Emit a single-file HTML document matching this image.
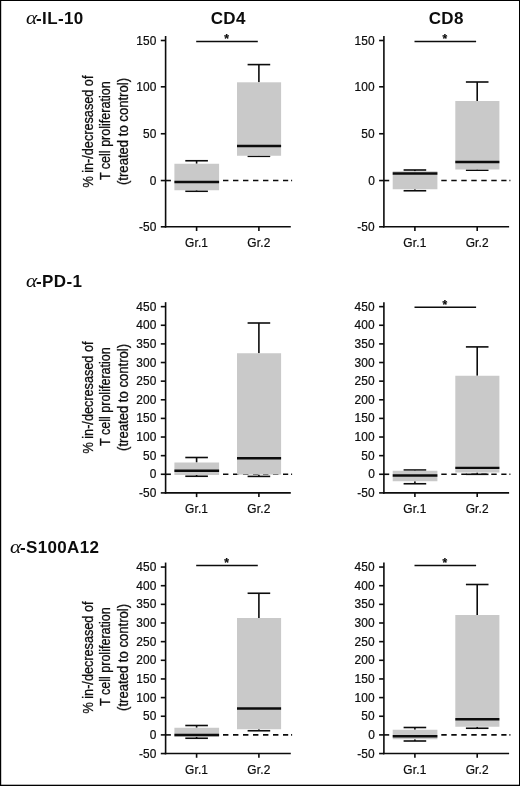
<!DOCTYPE html>
<html lang="en"><head><meta charset="utf-8"><title>Figure</title>
<style>html,body{margin:0;padding:0;background:#fff}body{width:520px;height:786px;overflow:hidden}svg{display:block}</style>
</head><body>
<svg width="520" height="786" viewBox="0 0 520 786" font-family='"Liberation Sans", Arial, Helvetica, sans-serif' fill="#0c0c0c">
<rect x="0" y="0" width="520" height="786" fill="#fff"/>
<rect x="0" y="0" width="520" height="1.0" fill="#000"/>
<rect x="0" y="0" width="1.2" height="786" fill="#000"/>
<rect x="0" y="784.7" width="520" height="1.3" fill="#000"/>
<rect x="519.0" y="0" width="1.0" height="786" fill="#000"/>
<text transform="translate(26.10,24.20) scale(1.1,1)" font-size="19.4" font-style="italic" font-family='"Liberation Serif", "Times New Roman", serif'>α</text>
<text x="36.10" y="24.20" font-size="17" font-weight="bold" letter-spacing="0.35">-IL-10</text>
<text transform="translate(26.10,286.90) scale(1.1,1)" font-size="19.4" font-style="italic" font-family='"Liberation Serif", "Times New Roman", serif'>α</text>
<text x="36.10" y="286.90" font-size="17" font-weight="bold" letter-spacing="0.35">-PD-1</text>
<text transform="translate(10.00,552.70) scale(1.1,1)" font-size="19.4" font-style="italic" font-family='"Liberation Serif", "Times New Roman", serif'>α</text>
<text x="20.00" y="552.70" font-size="17" font-weight="bold" letter-spacing="0.35">-S100A12</text>
<text x="228.20" y="24.20" font-size="17" text-anchor="middle" font-weight="bold" letter-spacing="0.3">CD4</text>
<text x="446.20" y="24.20" font-size="17" text-anchor="middle" font-weight="bold" letter-spacing="0.3">CD8</text>
<text transform="translate(93.10,131.60) rotate(-90)" font-size="14" text-anchor="middle" textLength="112.0" lengthAdjust="spacingAndGlyphs" stroke="#111" stroke-width="0.3">% in-/decresased of</text>
<text transform="translate(110.30,130.70) rotate(-90)" font-size="14" text-anchor="middle" textLength="98.8" lengthAdjust="spacingAndGlyphs" stroke="#111" stroke-width="0.3">T cell proliferation</text>
<text transform="translate(127.80,131.50) rotate(-90)" font-size="14" text-anchor="middle" textLength="107.0" lengthAdjust="spacingAndGlyphs" stroke="#111" stroke-width="0.3">(treated to control)</text>
<line x1="165.60" y1="180.55" x2="170.90" y2="180.55" stroke="#0c0c0c" stroke-width="1.6" />
<line x1="223.00" y1="180.55" x2="288.20" y2="180.55" stroke="#0c0c0c" stroke-width="1.6" stroke-dasharray="5.4 4.6"/>
<line x1="291.10" y1="180.55" x2="292.10" y2="180.55" stroke="#0c0c0c" stroke-width="1.6" />
<line x1="196.60" y1="160.75" x2="196.60" y2="163.75" stroke="#0c0c0c" stroke-width="1.6" />
<line x1="196.60" y1="190.25" x2="196.60" y2="191.25" stroke="#0c0c0c" stroke-width="1.6" />
<line x1="185.30" y1="160.75" x2="207.90" y2="160.75" stroke="#0c0c0c" stroke-width="1.6" />
<line x1="185.30" y1="191.25" x2="207.90" y2="191.25" stroke="#0c0c0c" stroke-width="1.6" />
<rect x="174.40" y="163.75" width="44.70" height="26.50" fill="#c9c9c9"/>
<line x1="174.40" y1="182.00" x2="219.10" y2="182.00" stroke="#0c0c0c" stroke-width="2.4" />
<line x1="258.90" y1="64.60" x2="258.90" y2="82.30" stroke="#0c0c0c" stroke-width="1.6" />
<line x1="258.90" y1="155.75" x2="258.90" y2="156.30" stroke="#0c0c0c" stroke-width="1.6" />
<line x1="247.60" y1="64.60" x2="270.20" y2="64.60" stroke="#0c0c0c" stroke-width="1.6" />
<line x1="247.60" y1="156.30" x2="270.20" y2="156.30" stroke="#0c0c0c" stroke-width="1.6" />
<rect x="237.00" y="82.30" width="44.10" height="73.45" fill="#c9c9c9"/>
<line x1="237.00" y1="146.00" x2="281.10" y2="146.00" stroke="#0c0c0c" stroke-width="2.4" />
<line x1="165.60" y1="36.00" x2="165.60" y2="227.60" stroke="#0c0c0c" stroke-width="1.6" />
<line x1="164.80" y1="226.80" x2="290.80" y2="226.80" stroke="#0c0c0c" stroke-width="1.6" />
<line x1="160.80" y1="40.50" x2="165.60" y2="40.50" stroke="#0c0c0c" stroke-width="1.6" />
<text x="156.60" y="44.50" font-size="11.9" text-anchor="end" font-weight="normal" stroke="#111" stroke-width="0.22" letter-spacing="0.15">150</text>
<line x1="160.80" y1="86.80" x2="165.60" y2="86.80" stroke="#0c0c0c" stroke-width="1.6" />
<text x="156.60" y="90.80" font-size="11.9" text-anchor="end" font-weight="normal" stroke="#111" stroke-width="0.22" letter-spacing="0.15">100</text>
<line x1="160.80" y1="133.75" x2="165.60" y2="133.75" stroke="#0c0c0c" stroke-width="1.6" />
<text x="156.60" y="137.75" font-size="11.9" text-anchor="end" font-weight="normal" stroke="#111" stroke-width="0.22" letter-spacing="0.15">50</text>
<line x1="160.80" y1="180.55" x2="165.60" y2="180.55" stroke="#0c0c0c" stroke-width="1.6" />
<text x="156.60" y="184.55" font-size="11.9" text-anchor="end" font-weight="normal" stroke="#111" stroke-width="0.22" letter-spacing="0.15">0</text>
<line x1="160.80" y1="226.80" x2="165.60" y2="226.80" stroke="#0c0c0c" stroke-width="1.6" />
<text x="156.60" y="230.80" font-size="11.9" text-anchor="end" font-weight="normal" stroke="#111" stroke-width="0.22" letter-spacing="0.15">-50</text>
<line x1="196.60" y1="226.80" x2="196.60" y2="231.00" stroke="#0c0c0c" stroke-width="1.6" />
<text x="196.60" y="246.80" font-size="11.9" text-anchor="middle" font-weight="normal" stroke="#111" stroke-width="0.22" letter-spacing="0.15">Gr.1</text>
<line x1="258.90" y1="226.80" x2="258.90" y2="231.00" stroke="#0c0c0c" stroke-width="1.6" />
<text x="258.90" y="246.80" font-size="11.9" text-anchor="middle" font-weight="normal" stroke="#111" stroke-width="0.22" letter-spacing="0.15">Gr.2</text>
<line x1="196.20" y1="41.50" x2="257.80" y2="41.50" stroke="#0c0c0c" stroke-width="1.6" />
<text x="226.60" y="42.90" font-size="12" text-anchor="middle" font-weight="bold" stroke="#111" stroke-width="0.25">*</text>
<line x1="383.90" y1="180.55" x2="389.20" y2="180.55" stroke="#0c0c0c" stroke-width="1.6" />
<line x1="441.30" y1="180.55" x2="506.50" y2="180.55" stroke="#0c0c0c" stroke-width="1.6" stroke-dasharray="5.4 4.6"/>
<line x1="509.40" y1="180.55" x2="510.40" y2="180.55" stroke="#0c0c0c" stroke-width="1.6" />
<line x1="414.90" y1="170.00" x2="414.90" y2="171.25" stroke="#0c0c0c" stroke-width="1.6" />
<line x1="414.90" y1="189.25" x2="414.90" y2="190.75" stroke="#0c0c0c" stroke-width="1.6" />
<line x1="403.60" y1="170.00" x2="426.20" y2="170.00" stroke="#0c0c0c" stroke-width="1.6" />
<line x1="403.60" y1="190.75" x2="426.20" y2="190.75" stroke="#0c0c0c" stroke-width="1.6" />
<rect x="392.70" y="171.25" width="44.70" height="18.00" fill="#c9c9c9"/>
<line x1="392.70" y1="173.50" x2="437.40" y2="173.50" stroke="#0c0c0c" stroke-width="2.4" />
<line x1="477.20" y1="82.00" x2="477.20" y2="101.00" stroke="#0c0c0c" stroke-width="1.6" />
<line x1="477.20" y1="169.50" x2="477.20" y2="170.20" stroke="#0c0c0c" stroke-width="1.6" />
<line x1="465.90" y1="82.00" x2="488.50" y2="82.00" stroke="#0c0c0c" stroke-width="1.6" />
<line x1="465.90" y1="170.20" x2="488.50" y2="170.20" stroke="#0c0c0c" stroke-width="1.6" />
<rect x="455.30" y="101.00" width="44.10" height="68.50" fill="#c9c9c9"/>
<line x1="455.30" y1="162.00" x2="499.40" y2="162.00" stroke="#0c0c0c" stroke-width="2.4" />
<line x1="383.90" y1="36.00" x2="383.90" y2="227.60" stroke="#0c0c0c" stroke-width="1.6" />
<line x1="383.10" y1="226.80" x2="509.10" y2="226.80" stroke="#0c0c0c" stroke-width="1.6" />
<line x1="379.10" y1="40.50" x2="383.90" y2="40.50" stroke="#0c0c0c" stroke-width="1.6" />
<text x="374.90" y="44.50" font-size="11.9" text-anchor="end" font-weight="normal" stroke="#111" stroke-width="0.22" letter-spacing="0.15">150</text>
<line x1="379.10" y1="86.80" x2="383.90" y2="86.80" stroke="#0c0c0c" stroke-width="1.6" />
<text x="374.90" y="90.80" font-size="11.9" text-anchor="end" font-weight="normal" stroke="#111" stroke-width="0.22" letter-spacing="0.15">100</text>
<line x1="379.10" y1="133.75" x2="383.90" y2="133.75" stroke="#0c0c0c" stroke-width="1.6" />
<text x="374.90" y="137.75" font-size="11.9" text-anchor="end" font-weight="normal" stroke="#111" stroke-width="0.22" letter-spacing="0.15">50</text>
<line x1="379.10" y1="180.55" x2="383.90" y2="180.55" stroke="#0c0c0c" stroke-width="1.6" />
<text x="374.90" y="184.55" font-size="11.9" text-anchor="end" font-weight="normal" stroke="#111" stroke-width="0.22" letter-spacing="0.15">0</text>
<line x1="379.10" y1="226.80" x2="383.90" y2="226.80" stroke="#0c0c0c" stroke-width="1.6" />
<text x="374.90" y="230.80" font-size="11.9" text-anchor="end" font-weight="normal" stroke="#111" stroke-width="0.22" letter-spacing="0.15">-50</text>
<line x1="414.90" y1="226.80" x2="414.90" y2="231.00" stroke="#0c0c0c" stroke-width="1.6" />
<text x="414.90" y="246.80" font-size="11.9" text-anchor="middle" font-weight="normal" stroke="#111" stroke-width="0.22" letter-spacing="0.15">Gr.1</text>
<line x1="477.20" y1="226.80" x2="477.20" y2="231.00" stroke="#0c0c0c" stroke-width="1.6" />
<text x="477.20" y="246.80" font-size="11.9" text-anchor="middle" font-weight="normal" stroke="#111" stroke-width="0.22" letter-spacing="0.15">Gr.2</text>
<line x1="414.50" y1="41.50" x2="476.10" y2="41.50" stroke="#0c0c0c" stroke-width="1.6" />
<text x="444.90" y="42.90" font-size="12" text-anchor="middle" font-weight="bold" stroke="#111" stroke-width="0.25">*</text>
<text transform="translate(93.10,397.50) rotate(-90)" font-size="14" text-anchor="middle" textLength="112.0" lengthAdjust="spacingAndGlyphs" stroke="#111" stroke-width="0.3">% in-/decresased of</text>
<text transform="translate(110.30,396.60) rotate(-90)" font-size="14" text-anchor="middle" textLength="98.8" lengthAdjust="spacingAndGlyphs" stroke="#111" stroke-width="0.3">T cell proliferation</text>
<text transform="translate(127.80,397.40) rotate(-90)" font-size="14" text-anchor="middle" textLength="107.0" lengthAdjust="spacingAndGlyphs" stroke="#111" stroke-width="0.3">(treated to control)</text>
<line x1="165.60" y1="474.27" x2="170.90" y2="474.27" stroke="#0c0c0c" stroke-width="1.6" />
<line x1="223.00" y1="474.27" x2="288.20" y2="474.27" stroke="#0c0c0c" stroke-width="1.6" stroke-dasharray="5.4 4.6"/>
<line x1="291.10" y1="474.27" x2="292.10" y2="474.27" stroke="#0c0c0c" stroke-width="1.6" />
<line x1="196.60" y1="457.50" x2="196.60" y2="462.50" stroke="#0c0c0c" stroke-width="1.6" />
<line x1="196.60" y1="475.00" x2="196.60" y2="476.25" stroke="#0c0c0c" stroke-width="1.6" />
<line x1="185.30" y1="457.50" x2="207.90" y2="457.50" stroke="#0c0c0c" stroke-width="1.6" />
<line x1="185.30" y1="476.25" x2="207.90" y2="476.25" stroke="#0c0c0c" stroke-width="1.6" />
<rect x="174.40" y="462.50" width="44.70" height="12.50" fill="#c9c9c9"/>
<line x1="174.40" y1="470.75" x2="219.10" y2="470.75" stroke="#0c0c0c" stroke-width="2.4" />
<line x1="258.90" y1="323.00" x2="258.90" y2="353.25" stroke="#0c0c0c" stroke-width="1.6" />
<line x1="258.90" y1="474.60" x2="258.90" y2="476.40" stroke="#0c0c0c" stroke-width="1.6" />
<line x1="247.60" y1="323.00" x2="270.20" y2="323.00" stroke="#0c0c0c" stroke-width="1.6" />
<line x1="247.60" y1="476.40" x2="270.20" y2="476.40" stroke="#0c0c0c" stroke-width="1.6" />
<rect x="237.00" y="353.25" width="44.10" height="121.35" fill="#c9c9c9"/>
<line x1="237.00" y1="458.25" x2="281.10" y2="458.25" stroke="#0c0c0c" stroke-width="2.4" />
<line x1="165.60" y1="302.15" x2="165.60" y2="493.70" stroke="#0c0c0c" stroke-width="1.6" />
<line x1="164.80" y1="492.90" x2="290.80" y2="492.90" stroke="#0c0c0c" stroke-width="1.6" />
<line x1="160.80" y1="306.65" x2="165.60" y2="306.65" stroke="#0c0c0c" stroke-width="1.6" />
<text x="156.60" y="310.65" font-size="11.9" text-anchor="end" font-weight="normal" stroke="#111" stroke-width="0.22" letter-spacing="0.15">450</text>
<line x1="160.80" y1="325.27" x2="165.60" y2="325.27" stroke="#0c0c0c" stroke-width="1.6" />
<text x="156.60" y="329.27" font-size="11.9" text-anchor="end" font-weight="normal" stroke="#111" stroke-width="0.22" letter-spacing="0.15">400</text>
<line x1="160.80" y1="343.90" x2="165.60" y2="343.90" stroke="#0c0c0c" stroke-width="1.6" />
<text x="156.60" y="347.90" font-size="11.9" text-anchor="end" font-weight="normal" stroke="#111" stroke-width="0.22" letter-spacing="0.15">350</text>
<line x1="160.80" y1="362.52" x2="165.60" y2="362.52" stroke="#0c0c0c" stroke-width="1.6" />
<text x="156.60" y="366.52" font-size="11.9" text-anchor="end" font-weight="normal" stroke="#111" stroke-width="0.22" letter-spacing="0.15">300</text>
<line x1="160.80" y1="381.15" x2="165.60" y2="381.15" stroke="#0c0c0c" stroke-width="1.6" />
<text x="156.60" y="385.15" font-size="11.9" text-anchor="end" font-weight="normal" stroke="#111" stroke-width="0.22" letter-spacing="0.15">250</text>
<line x1="160.80" y1="399.77" x2="165.60" y2="399.77" stroke="#0c0c0c" stroke-width="1.6" />
<text x="156.60" y="403.77" font-size="11.9" text-anchor="end" font-weight="normal" stroke="#111" stroke-width="0.22" letter-spacing="0.15">200</text>
<line x1="160.80" y1="418.40" x2="165.60" y2="418.40" stroke="#0c0c0c" stroke-width="1.6" />
<text x="156.60" y="422.40" font-size="11.9" text-anchor="end" font-weight="normal" stroke="#111" stroke-width="0.22" letter-spacing="0.15">150</text>
<line x1="160.80" y1="437.02" x2="165.60" y2="437.02" stroke="#0c0c0c" stroke-width="1.6" />
<text x="156.60" y="441.02" font-size="11.9" text-anchor="end" font-weight="normal" stroke="#111" stroke-width="0.22" letter-spacing="0.15">100</text>
<line x1="160.80" y1="455.65" x2="165.60" y2="455.65" stroke="#0c0c0c" stroke-width="1.6" />
<text x="156.60" y="459.65" font-size="11.9" text-anchor="end" font-weight="normal" stroke="#111" stroke-width="0.22" letter-spacing="0.15">50</text>
<line x1="160.80" y1="474.27" x2="165.60" y2="474.27" stroke="#0c0c0c" stroke-width="1.6" />
<text x="156.60" y="478.27" font-size="11.9" text-anchor="end" font-weight="normal" stroke="#111" stroke-width="0.22" letter-spacing="0.15">0</text>
<line x1="160.80" y1="492.90" x2="165.60" y2="492.90" stroke="#0c0c0c" stroke-width="1.6" />
<text x="156.60" y="496.90" font-size="11.9" text-anchor="end" font-weight="normal" stroke="#111" stroke-width="0.22" letter-spacing="0.15">-50</text>
<line x1="196.60" y1="492.90" x2="196.60" y2="497.10" stroke="#0c0c0c" stroke-width="1.6" />
<text x="196.60" y="512.90" font-size="11.9" text-anchor="middle" font-weight="normal" stroke="#111" stroke-width="0.22" letter-spacing="0.15">Gr.1</text>
<line x1="258.90" y1="492.90" x2="258.90" y2="497.10" stroke="#0c0c0c" stroke-width="1.6" />
<text x="258.90" y="512.90" font-size="11.9" text-anchor="middle" font-weight="normal" stroke="#111" stroke-width="0.22" letter-spacing="0.15">Gr.2</text>
<line x1="383.90" y1="474.27" x2="389.20" y2="474.27" stroke="#0c0c0c" stroke-width="1.6" />
<line x1="441.30" y1="474.27" x2="506.50" y2="474.27" stroke="#0c0c0c" stroke-width="1.6" stroke-dasharray="5.4 4.6"/>
<line x1="509.40" y1="474.27" x2="510.40" y2="474.27" stroke="#0c0c0c" stroke-width="1.6" />
<line x1="414.90" y1="470.00" x2="414.90" y2="470.75" stroke="#0c0c0c" stroke-width="1.6" />
<line x1="414.90" y1="481.25" x2="414.90" y2="483.75" stroke="#0c0c0c" stroke-width="1.6" />
<line x1="403.60" y1="470.00" x2="426.20" y2="470.00" stroke="#0c0c0c" stroke-width="1.6" />
<line x1="403.60" y1="483.75" x2="426.20" y2="483.75" stroke="#0c0c0c" stroke-width="1.6" />
<rect x="392.70" y="470.75" width="44.70" height="10.50" fill="#c9c9c9"/>
<line x1="392.70" y1="475.50" x2="437.40" y2="475.50" stroke="#0c0c0c" stroke-width="2.4" />
<line x1="477.20" y1="346.90" x2="477.20" y2="375.75" stroke="#0c0c0c" stroke-width="1.6" />
<line x1="477.20" y1="472.50" x2="477.20" y2="474.30" stroke="#0c0c0c" stroke-width="1.6" />
<line x1="465.90" y1="346.90" x2="488.50" y2="346.90" stroke="#0c0c0c" stroke-width="1.6" />
<line x1="465.90" y1="474.30" x2="488.50" y2="474.30" stroke="#0c0c0c" stroke-width="1.6" />
<rect x="455.30" y="375.75" width="44.10" height="96.75" fill="#c9c9c9"/>
<line x1="455.30" y1="467.90" x2="499.40" y2="467.90" stroke="#0c0c0c" stroke-width="2.4" />
<line x1="383.90" y1="302.15" x2="383.90" y2="493.70" stroke="#0c0c0c" stroke-width="1.6" />
<line x1="383.10" y1="492.90" x2="509.10" y2="492.90" stroke="#0c0c0c" stroke-width="1.6" />
<line x1="379.10" y1="306.65" x2="383.90" y2="306.65" stroke="#0c0c0c" stroke-width="1.6" />
<text x="374.90" y="310.65" font-size="11.9" text-anchor="end" font-weight="normal" stroke="#111" stroke-width="0.22" letter-spacing="0.15">450</text>
<line x1="379.10" y1="325.27" x2="383.90" y2="325.27" stroke="#0c0c0c" stroke-width="1.6" />
<text x="374.90" y="329.27" font-size="11.9" text-anchor="end" font-weight="normal" stroke="#111" stroke-width="0.22" letter-spacing="0.15">400</text>
<line x1="379.10" y1="343.90" x2="383.90" y2="343.90" stroke="#0c0c0c" stroke-width="1.6" />
<text x="374.90" y="347.90" font-size="11.9" text-anchor="end" font-weight="normal" stroke="#111" stroke-width="0.22" letter-spacing="0.15">350</text>
<line x1="379.10" y1="362.52" x2="383.90" y2="362.52" stroke="#0c0c0c" stroke-width="1.6" />
<text x="374.90" y="366.52" font-size="11.9" text-anchor="end" font-weight="normal" stroke="#111" stroke-width="0.22" letter-spacing="0.15">300</text>
<line x1="379.10" y1="381.15" x2="383.90" y2="381.15" stroke="#0c0c0c" stroke-width="1.6" />
<text x="374.90" y="385.15" font-size="11.9" text-anchor="end" font-weight="normal" stroke="#111" stroke-width="0.22" letter-spacing="0.15">250</text>
<line x1="379.10" y1="399.77" x2="383.90" y2="399.77" stroke="#0c0c0c" stroke-width="1.6" />
<text x="374.90" y="403.77" font-size="11.9" text-anchor="end" font-weight="normal" stroke="#111" stroke-width="0.22" letter-spacing="0.15">200</text>
<line x1="379.10" y1="418.40" x2="383.90" y2="418.40" stroke="#0c0c0c" stroke-width="1.6" />
<text x="374.90" y="422.40" font-size="11.9" text-anchor="end" font-weight="normal" stroke="#111" stroke-width="0.22" letter-spacing="0.15">150</text>
<line x1="379.10" y1="437.02" x2="383.90" y2="437.02" stroke="#0c0c0c" stroke-width="1.6" />
<text x="374.90" y="441.02" font-size="11.9" text-anchor="end" font-weight="normal" stroke="#111" stroke-width="0.22" letter-spacing="0.15">100</text>
<line x1="379.10" y1="455.65" x2="383.90" y2="455.65" stroke="#0c0c0c" stroke-width="1.6" />
<text x="374.90" y="459.65" font-size="11.9" text-anchor="end" font-weight="normal" stroke="#111" stroke-width="0.22" letter-spacing="0.15">50</text>
<line x1="379.10" y1="474.27" x2="383.90" y2="474.27" stroke="#0c0c0c" stroke-width="1.6" />
<text x="374.90" y="478.27" font-size="11.9" text-anchor="end" font-weight="normal" stroke="#111" stroke-width="0.22" letter-spacing="0.15">0</text>
<line x1="379.10" y1="492.90" x2="383.90" y2="492.90" stroke="#0c0c0c" stroke-width="1.6" />
<text x="374.90" y="496.90" font-size="11.9" text-anchor="end" font-weight="normal" stroke="#111" stroke-width="0.22" letter-spacing="0.15">-50</text>
<line x1="414.90" y1="492.90" x2="414.90" y2="497.10" stroke="#0c0c0c" stroke-width="1.6" />
<text x="414.90" y="512.90" font-size="11.9" text-anchor="middle" font-weight="normal" stroke="#111" stroke-width="0.22" letter-spacing="0.15">Gr.1</text>
<line x1="477.20" y1="492.90" x2="477.20" y2="497.10" stroke="#0c0c0c" stroke-width="1.6" />
<text x="477.20" y="512.90" font-size="11.9" text-anchor="middle" font-weight="normal" stroke="#111" stroke-width="0.22" letter-spacing="0.15">Gr.2</text>
<line x1="414.50" y1="307.25" x2="476.10" y2="307.25" stroke="#0c0c0c" stroke-width="1.6" />
<text x="444.90" y="308.65" font-size="12" text-anchor="middle" font-weight="bold" stroke="#111" stroke-width="0.25">*</text>
<text transform="translate(93.10,657.50) rotate(-90)" font-size="14" text-anchor="middle" textLength="112.0" lengthAdjust="spacingAndGlyphs" stroke="#111" stroke-width="0.3">% in-/decresased of</text>
<text transform="translate(110.30,656.60) rotate(-90)" font-size="14" text-anchor="middle" textLength="98.8" lengthAdjust="spacingAndGlyphs" stroke="#111" stroke-width="0.3">T cell proliferation</text>
<text transform="translate(127.80,657.40) rotate(-90)" font-size="14" text-anchor="middle" textLength="107.0" lengthAdjust="spacingAndGlyphs" stroke="#111" stroke-width="0.3">(treated to control)</text>
<line x1="165.60" y1="734.90" x2="170.90" y2="734.90" stroke="#0c0c0c" stroke-width="1.6" />
<line x1="223.00" y1="734.90" x2="288.20" y2="734.90" stroke="#0c0c0c" stroke-width="1.6" stroke-dasharray="5.4 4.6"/>
<line x1="291.10" y1="734.90" x2="292.10" y2="734.90" stroke="#0c0c0c" stroke-width="1.6" />
<line x1="196.60" y1="725.50" x2="196.60" y2="727.75" stroke="#0c0c0c" stroke-width="1.6" />
<line x1="196.60" y1="736.75" x2="196.60" y2="738.25" stroke="#0c0c0c" stroke-width="1.6" />
<line x1="185.30" y1="725.50" x2="207.90" y2="725.50" stroke="#0c0c0c" stroke-width="1.6" />
<line x1="185.30" y1="738.25" x2="207.90" y2="738.25" stroke="#0c0c0c" stroke-width="1.6" />
<rect x="174.40" y="727.75" width="44.70" height="9.00" fill="#c9c9c9"/>
<line x1="174.40" y1="735.00" x2="219.10" y2="735.00" stroke="#0c0c0c" stroke-width="2.4" />
<line x1="258.90" y1="593.25" x2="258.90" y2="618.00" stroke="#0c0c0c" stroke-width="1.6" />
<line x1="258.90" y1="729.25" x2="258.90" y2="730.75" stroke="#0c0c0c" stroke-width="1.6" />
<line x1="247.60" y1="593.25" x2="270.20" y2="593.25" stroke="#0c0c0c" stroke-width="1.6" />
<line x1="247.60" y1="730.75" x2="270.20" y2="730.75" stroke="#0c0c0c" stroke-width="1.6" />
<rect x="237.00" y="618.00" width="44.10" height="111.25" fill="#c9c9c9"/>
<line x1="237.00" y1="708.50" x2="281.10" y2="708.50" stroke="#0c0c0c" stroke-width="2.4" />
<line x1="165.60" y1="562.55" x2="165.60" y2="754.35" stroke="#0c0c0c" stroke-width="1.6" />
<line x1="164.80" y1="753.55" x2="290.80" y2="753.55" stroke="#0c0c0c" stroke-width="1.6" />
<line x1="160.80" y1="567.05" x2="165.60" y2="567.05" stroke="#0c0c0c" stroke-width="1.6" />
<text x="156.60" y="571.05" font-size="11.9" text-anchor="end" font-weight="normal" stroke="#111" stroke-width="0.22" letter-spacing="0.15">450</text>
<line x1="160.80" y1="585.70" x2="165.60" y2="585.70" stroke="#0c0c0c" stroke-width="1.6" />
<text x="156.60" y="589.70" font-size="11.9" text-anchor="end" font-weight="normal" stroke="#111" stroke-width="0.22" letter-spacing="0.15">400</text>
<line x1="160.80" y1="604.35" x2="165.60" y2="604.35" stroke="#0c0c0c" stroke-width="1.6" />
<text x="156.60" y="608.35" font-size="11.9" text-anchor="end" font-weight="normal" stroke="#111" stroke-width="0.22" letter-spacing="0.15">350</text>
<line x1="160.80" y1="623.00" x2="165.60" y2="623.00" stroke="#0c0c0c" stroke-width="1.6" />
<text x="156.60" y="627.00" font-size="11.9" text-anchor="end" font-weight="normal" stroke="#111" stroke-width="0.22" letter-spacing="0.15">300</text>
<line x1="160.80" y1="641.65" x2="165.60" y2="641.65" stroke="#0c0c0c" stroke-width="1.6" />
<text x="156.60" y="645.65" font-size="11.9" text-anchor="end" font-weight="normal" stroke="#111" stroke-width="0.22" letter-spacing="0.15">250</text>
<line x1="160.80" y1="660.30" x2="165.60" y2="660.30" stroke="#0c0c0c" stroke-width="1.6" />
<text x="156.60" y="664.30" font-size="11.9" text-anchor="end" font-weight="normal" stroke="#111" stroke-width="0.22" letter-spacing="0.15">200</text>
<line x1="160.80" y1="678.95" x2="165.60" y2="678.95" stroke="#0c0c0c" stroke-width="1.6" />
<text x="156.60" y="682.95" font-size="11.9" text-anchor="end" font-weight="normal" stroke="#111" stroke-width="0.22" letter-spacing="0.15">150</text>
<line x1="160.80" y1="697.60" x2="165.60" y2="697.60" stroke="#0c0c0c" stroke-width="1.6" />
<text x="156.60" y="701.60" font-size="11.9" text-anchor="end" font-weight="normal" stroke="#111" stroke-width="0.22" letter-spacing="0.15">100</text>
<line x1="160.80" y1="716.25" x2="165.60" y2="716.25" stroke="#0c0c0c" stroke-width="1.6" />
<text x="156.60" y="720.25" font-size="11.9" text-anchor="end" font-weight="normal" stroke="#111" stroke-width="0.22" letter-spacing="0.15">50</text>
<line x1="160.80" y1="734.90" x2="165.60" y2="734.90" stroke="#0c0c0c" stroke-width="1.6" />
<text x="156.60" y="738.90" font-size="11.9" text-anchor="end" font-weight="normal" stroke="#111" stroke-width="0.22" letter-spacing="0.15">0</text>
<line x1="160.80" y1="753.55" x2="165.60" y2="753.55" stroke="#0c0c0c" stroke-width="1.6" />
<text x="156.60" y="757.55" font-size="11.9" text-anchor="end" font-weight="normal" stroke="#111" stroke-width="0.22" letter-spacing="0.15">-50</text>
<line x1="196.60" y1="753.55" x2="196.60" y2="757.75" stroke="#0c0c0c" stroke-width="1.6" />
<text x="196.60" y="773.55" font-size="11.9" text-anchor="middle" font-weight="normal" stroke="#111" stroke-width="0.22" letter-spacing="0.15">Gr.1</text>
<line x1="258.90" y1="753.55" x2="258.90" y2="757.75" stroke="#0c0c0c" stroke-width="1.6" />
<text x="258.90" y="773.55" font-size="11.9" text-anchor="middle" font-weight="normal" stroke="#111" stroke-width="0.22" letter-spacing="0.15">Gr.2</text>
<line x1="196.20" y1="565.50" x2="257.80" y2="565.50" stroke="#0c0c0c" stroke-width="1.6" />
<text x="226.60" y="566.90" font-size="12" text-anchor="middle" font-weight="bold" stroke="#111" stroke-width="0.25">*</text>
<line x1="383.90" y1="734.90" x2="389.20" y2="734.90" stroke="#0c0c0c" stroke-width="1.6" />
<line x1="441.30" y1="734.90" x2="506.50" y2="734.90" stroke="#0c0c0c" stroke-width="1.6" stroke-dasharray="5.4 4.6"/>
<line x1="509.40" y1="734.90" x2="510.40" y2="734.90" stroke="#0c0c0c" stroke-width="1.6" />
<line x1="414.90" y1="727.50" x2="414.90" y2="729.75" stroke="#0c0c0c" stroke-width="1.6" />
<line x1="414.90" y1="739.25" x2="414.90" y2="741.00" stroke="#0c0c0c" stroke-width="1.6" />
<line x1="403.60" y1="727.50" x2="426.20" y2="727.50" stroke="#0c0c0c" stroke-width="1.6" />
<line x1="403.60" y1="741.00" x2="426.20" y2="741.00" stroke="#0c0c0c" stroke-width="1.6" />
<rect x="392.70" y="729.75" width="44.70" height="9.50" fill="#c9c9c9"/>
<line x1="392.70" y1="736.25" x2="437.40" y2="736.25" stroke="#0c0c0c" stroke-width="2.4" />
<line x1="477.20" y1="584.50" x2="477.20" y2="615.00" stroke="#0c0c0c" stroke-width="1.6" />
<line x1="477.20" y1="726.75" x2="477.20" y2="728.25" stroke="#0c0c0c" stroke-width="1.6" />
<line x1="465.90" y1="584.50" x2="488.50" y2="584.50" stroke="#0c0c0c" stroke-width="1.6" />
<line x1="465.90" y1="728.25" x2="488.50" y2="728.25" stroke="#0c0c0c" stroke-width="1.6" />
<rect x="455.30" y="615.00" width="44.10" height="111.75" fill="#c9c9c9"/>
<line x1="455.30" y1="719.25" x2="499.40" y2="719.25" stroke="#0c0c0c" stroke-width="2.4" />
<line x1="383.90" y1="562.55" x2="383.90" y2="754.35" stroke="#0c0c0c" stroke-width="1.6" />
<line x1="383.10" y1="753.55" x2="509.10" y2="753.55" stroke="#0c0c0c" stroke-width="1.6" />
<line x1="379.10" y1="567.05" x2="383.90" y2="567.05" stroke="#0c0c0c" stroke-width="1.6" />
<text x="374.90" y="571.05" font-size="11.9" text-anchor="end" font-weight="normal" stroke="#111" stroke-width="0.22" letter-spacing="0.15">450</text>
<line x1="379.10" y1="585.70" x2="383.90" y2="585.70" stroke="#0c0c0c" stroke-width="1.6" />
<text x="374.90" y="589.70" font-size="11.9" text-anchor="end" font-weight="normal" stroke="#111" stroke-width="0.22" letter-spacing="0.15">400</text>
<line x1="379.10" y1="604.35" x2="383.90" y2="604.35" stroke="#0c0c0c" stroke-width="1.6" />
<text x="374.90" y="608.35" font-size="11.9" text-anchor="end" font-weight="normal" stroke="#111" stroke-width="0.22" letter-spacing="0.15">350</text>
<line x1="379.10" y1="623.00" x2="383.90" y2="623.00" stroke="#0c0c0c" stroke-width="1.6" />
<text x="374.90" y="627.00" font-size="11.9" text-anchor="end" font-weight="normal" stroke="#111" stroke-width="0.22" letter-spacing="0.15">300</text>
<line x1="379.10" y1="641.65" x2="383.90" y2="641.65" stroke="#0c0c0c" stroke-width="1.6" />
<text x="374.90" y="645.65" font-size="11.9" text-anchor="end" font-weight="normal" stroke="#111" stroke-width="0.22" letter-spacing="0.15">250</text>
<line x1="379.10" y1="660.30" x2="383.90" y2="660.30" stroke="#0c0c0c" stroke-width="1.6" />
<text x="374.90" y="664.30" font-size="11.9" text-anchor="end" font-weight="normal" stroke="#111" stroke-width="0.22" letter-spacing="0.15">200</text>
<line x1="379.10" y1="678.95" x2="383.90" y2="678.95" stroke="#0c0c0c" stroke-width="1.6" />
<text x="374.90" y="682.95" font-size="11.9" text-anchor="end" font-weight="normal" stroke="#111" stroke-width="0.22" letter-spacing="0.15">150</text>
<line x1="379.10" y1="697.60" x2="383.90" y2="697.60" stroke="#0c0c0c" stroke-width="1.6" />
<text x="374.90" y="701.60" font-size="11.9" text-anchor="end" font-weight="normal" stroke="#111" stroke-width="0.22" letter-spacing="0.15">100</text>
<line x1="379.10" y1="716.25" x2="383.90" y2="716.25" stroke="#0c0c0c" stroke-width="1.6" />
<text x="374.90" y="720.25" font-size="11.9" text-anchor="end" font-weight="normal" stroke="#111" stroke-width="0.22" letter-spacing="0.15">50</text>
<line x1="379.10" y1="734.90" x2="383.90" y2="734.90" stroke="#0c0c0c" stroke-width="1.6" />
<text x="374.90" y="738.90" font-size="11.9" text-anchor="end" font-weight="normal" stroke="#111" stroke-width="0.22" letter-spacing="0.15">0</text>
<line x1="379.10" y1="753.55" x2="383.90" y2="753.55" stroke="#0c0c0c" stroke-width="1.6" />
<text x="374.90" y="757.55" font-size="11.9" text-anchor="end" font-weight="normal" stroke="#111" stroke-width="0.22" letter-spacing="0.15">-50</text>
<line x1="414.90" y1="753.55" x2="414.90" y2="757.75" stroke="#0c0c0c" stroke-width="1.6" />
<text x="414.90" y="773.55" font-size="11.9" text-anchor="middle" font-weight="normal" stroke="#111" stroke-width="0.22" letter-spacing="0.15">Gr.1</text>
<line x1="477.20" y1="753.55" x2="477.20" y2="757.75" stroke="#0c0c0c" stroke-width="1.6" />
<text x="477.20" y="773.55" font-size="11.9" text-anchor="middle" font-weight="normal" stroke="#111" stroke-width="0.22" letter-spacing="0.15">Gr.2</text>
<line x1="414.50" y1="565.50" x2="476.10" y2="565.50" stroke="#0c0c0c" stroke-width="1.6" />
<text x="444.90" y="566.90" font-size="12" text-anchor="middle" font-weight="bold" stroke="#111" stroke-width="0.25">*</text>
</svg></body></html>
